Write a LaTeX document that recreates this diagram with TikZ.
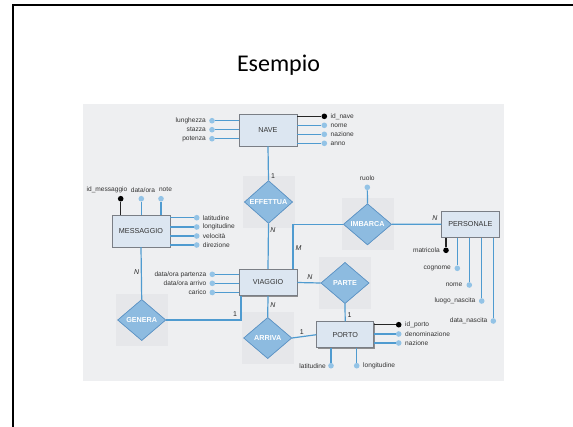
\documentclass[tikz,border=0pt]{standalone}
\usepackage{fontspec}
\setmainfont{Liberation Sans}
\newfontfamily\titlefont{Carlito}
\usetikzlibrary{shapes.geometric,shadows,calc}
\definecolor{bgcol}{HTML}{EEEFF1}
\definecolor{panelcol}{HTML}{E6E7EA}
\definecolor{boxfill}{HTML}{DCE6F1}
\definecolor{boxline}{HTML}{7A7E85}
\definecolor{linecol}{HTML}{4F9BD0}
\definecolor{dotcol}{HTML}{93C3E6}
\definecolor{diafill}{HTML}{8DBBE0}
\definecolor{diaborder}{HTML}{5D93C4}
\definecolor{txtcol}{HTML}{333333}
\tikzset{
  entity/.style={rectangle, fill=boxfill, draw=boxline, line width=0.6pt, inner sep=0pt,
    minimum width=58pt, text=txtcol, font=\fontsize{7.2}{8}\selectfont,
    drop shadow={shadow xshift=1pt, shadow yshift=-1pt, fill=black!60, opacity=0.7}},
  rel/.style={diamond, fill=diafill, draw=diaborder, line width=0.6pt, inner sep=0pt,
    minimum width=48pt, minimum height=41pt, text=white, font=\bfseries\fontsize{7.2}{8}\selectfont},
  panel/.style={fill=panelcol, draw=none},
  conn/.style={draw=linecol, line width=1.2pt},
  keyconn/.style={draw=black!85, line width=1.2pt},
  attr/.style={circle, fill=dotcol, draw=none, inner sep=0pt, minimum size=5.6pt},
  keyattr/.style={circle, fill=black, draw=none, inner sep=0pt, minimum size=5.6pt},
  atxt/.style={text=txtcol, font=\fontsize{6.6}{7}\selectfont, inner sep=0pt},
  card/.style={text=black!85, font=\itshape\fontsize{7}{8}\selectfont, inner sep=0pt},
  cardn/.style={text=black!85, font=\fontsize{7}{8}\selectfont, inner sep=0pt},
}
\begin{document}
\begin{tikzpicture}[x=1pt,y=-1pt]
\useasboundingbox (0,0) rectangle (573,426);
\fill[white] (0,0) rectangle (573,426);
% slide frame
\draw[line width=2pt, black] (13,427) -- (13,5) -- (574,5);
% title
\node[font=\titlefont\fontsize{24}{28}\selectfont, inner sep=0pt] (title) at (278.5,65) {Esempio};
% background
\fill[bgcol] (83,104) rectangle (504,381);
% panels behind diamonds
\fill[panel] (242.5,176) rectangle (294.5,228);
\fill[panel] (341.5,198.3) rectangle (393.5,250.3);
\fill[panel] (319,257) rectangle (371,309);
\fill[panel] (115.7,294) rectangle (167.7,346);
\fill[panel] (241.7,312) rectangle (293.7,364);

% entities
\node[entity, minimum height=32pt] (nave) at (268,130) {NAVE};
\node[entity, minimum height=31.7pt] (mess) at (141,231) {MESSAGGIO};
\node[entity, minimum height=26.4pt] (viag) at (268,282.5) {VIAGGIO};
\node[entity, minimum width=57pt, minimum height=26pt] (porto) at (345.2,334.7) {PORTO};
\node[entity, minimum width=57.3pt, minimum height=26.3pt] (pers) at (470.3,224.2) {PERSONALE};

% relationships
\node[rel] (eff) at (268.5,202) {EFFETTUA};
\node[rel] (imb) at (367.5,224.3) {IMBARCA};
\node[rel] (parte) at (345,283) {PARTE};
\node[rel] (gen) at (141.7,320) {GENERA};
\node[rel] (arr) at (267.7,338) {ARRIVA};

% NAVE attributes
\node[attr] (lun) at (212,120.7) {};
\node[attr] (sta) at (212,129.7) {};
\node[attr] (pot) at (212,138.7) {};
\node[atxt, anchor=east] (tlun) at (206,120.7) {lunghezza};
\node[atxt, anchor=east] (tsta) at (206,129.7) {stazza};
\node[atxt, anchor=east] (tpot) at (206,138.7) {potenza};
\draw[conn] (lun) -- (lun -| nave.west);
\draw[conn] (sta) -- (sta -| nave.west);
\draw[conn] (pot) -- (pot -| nave.west);
\node[keyattr] (idn) at (324.3,116.3) {};
\node[attr] (nom) at (324.3,125.3) {};
\node[attr] (naz) at (324.3,134.3) {};
\node[attr] (ann) at (324.3,143.3) {};
\node[atxt, anchor=west] (tidn) at (330.5,116.3) {id\_nave};
\node[atxt, anchor=west] (tnom) at (330.5,125.3) {nome};
\node[atxt, anchor=west] (tnaz) at (330.5,134.3) {nazione};
\node[atxt, anchor=west] (tann) at (330.5,143.3) {anno};
\draw[keyconn] (idn) -- (idn -| nave.east);
\draw[conn] (nom) -- (nom -| nave.east);
\draw[conn] (naz) -- (naz -| nave.east);
\draw[conn] (ann) -- (ann -| nave.east);

% MESSAGGIO attributes
\node[keyattr] (idm) at (120.7,198.7) {};
\node[attr] (dom) at (141.3,198.7) {};
\node[attr] (not) at (161,198.7) {};
\node[atxt] (tidm) at (107,189.7) {id\_messaggio};
\node[atxt] (tdom) at (143,189.7) {data/ora};
\node[atxt] (tnot) at (165.5,189.7) {note};
\draw[keyconn] (idm) -- (idm |- mess.north);
\draw[conn] (dom) -- (dom |- mess.north);
\draw[conn] (not) -- (not |- mess.north);
\node[attr] (mlat) at (196.7,217.7) {};
\node[attr] (mlon) at (196.7,227) {};
\node[attr] (mvel) at (196.7,236) {};
\node[attr] (mdir) at (196.7,245) {};
\node[atxt, anchor=west] (tmlat) at (202.7,217.7) {latitudine};
\node[atxt, anchor=west] (tmlon) at (202.7,227) {longitudine};
\node[atxt, anchor=west] (tmvel) at (202.7,236) {velocità};
\node[atxt, anchor=west] (tmdir) at (202.7,245) {direzione};
\draw[conn] (mlat) -- (mlat -| mess.east);
\draw[conn] (mlon) -- (mlon -| mess.east);
\draw[conn] (mvel) -- (mvel -| mess.east);
\draw[conn] (mdir) -- (mdir -| mess.east);

% VIAGGIO attributes
\node[attr] (dop) at (212.3,274.3) {};
\node[attr] (doa) at (212.3,283.3) {};
\node[attr] (car) at (212.3,292.5) {};
\node[atxt, anchor=east] (tdop) at (206.5,274.3) {data/ora partenza};
\node[atxt, anchor=east] (tdoa) at (206.5,283.3) {data/ora arrivo};
\node[atxt, anchor=east] (tcar) at (206.5,292.5) {carico};
\draw[conn] (dop) -- (dop -| viag.west);
\draw[conn] (doa) -- (doa -| viag.west);
\draw[conn] (car) -- (car -| viag.west);

% PORTO attributes
\node[keyattr] (idp) at (398.7,324.7) {};
\node[attr] (den) at (398.7,334) {};
\node[attr] (pnaz) at (398.7,343) {};
\node[atxt, anchor=west] (tidp) at (405,324.7) {id\_porto};
\node[atxt, anchor=west] (tden) at (405,334) {denominazione};
\node[atxt, anchor=west] (tpnaz) at (405,343) {nazione};
\draw[keyconn] (idp) -- (idp -| porto.east);
\draw[conn] (den) -- (den -| porto.east);
\draw[conn] (pnaz) -- (pnaz -| porto.east);
\node[attr] (plat) at (331,365.7) {};
\node[attr] (plon) at (356.7,365.7) {};
\node[atxt, anchor=east] (tplat) at (326,365.7) {latitudine};
\node[atxt, anchor=west] (tplon) at (363,365.7) {longitudine};
\draw[conn] (plat) -- (plat |- porto.south);
\draw[conn] (plon) -- (plon |- porto.south);

% PERSONALE attributes
\node[keyattr] (mat) at (446,250.3) {};
\node[attr] (cog) at (457.3,268.3) {};
\node[attr] (pnom) at (469.3,285) {};
\node[attr] (lnas) at (481.7,301) {};
\node[attr] (dnas) at (493.3,321) {};
\node[atxt, anchor=east] (tmat) at (440,250.3) {matricola};
\node[atxt, anchor=east] (tcog) at (451,268.3) {cognome};
\node[atxt, anchor=east] (tpnom) at (462.5,285) {nome};
\node[atxt, anchor=east] (tlnas) at (475.5,301) {luogo\_nascita};
\node[atxt, anchor=east] (tdnas) at (487.5,321) {data\_nascita};
\draw[keyconn] (mat) -- (mat |- pers.south);
\draw[conn] (cog) -- (cog |- pers.south);
\draw[conn] (pnom) -- (pnom |- pers.south);
\draw[conn] (lnas) -- (lnas |- pers.south);
\draw[conn] (dnas) -- (dnas |- pers.south);

% ruolo
\node[attr] (ruolo) at (367.3,187.3) {};
\node[atxt] (truolo) at (367.3,178.3) {ruolo};
\draw[conn] (ruolo) -- (imb.north);

% relationship connectors
\draw[conn] (nave.south) -- (eff.north);
\draw[conn] (eff.south) -- (viag.north);
\draw[conn] ([xshift=-4.4pt]viag.north east) |- (imb.west);
\draw[conn] (imb.east) -- (pers.west);
\draw[conn] (viag.east) -- (parte.west);
\draw[conn] (parte.south) -- (porto.north);
\draw[conn] (viag.south) -- (arr.north);
\draw[conn] (arr.east) -- (porto.west);
\draw[conn] (mess.south) -- (gen.north);
\draw[conn] (gen.east) -| ([xshift=-27pt]viag.south);

% redraw relationship shapes above connectors
\node[rel] at (eff) {EFFETTUA};
\node[rel] at (imb) {IMBARCA};
\node[rel] at (parte) {PARTE};
\node[rel] at (gen) {GENERA};
\node[rel] at (arr) {ARRIVA};

% cardinalities
\node[cardn] (c1) at (273,176) {1};
\node[card] (c2) at (273,230) {N};
\node[card] (c3) at (298.5,248.3) {M};
\node[card] (c4) at (435,218) {N};
\node[card] (c5) at (310,277.3) {N};
\node[cardn] (c6) at (349.5,315) {1};
\node[card] (c7) at (273,305) {N};
\node[cardn] (c8) at (301.7,331.7) {1};
\node[card] (c9) at (136.7,272.3) {N};
\node[cardn] (c10) at (235,314) {1};
\end{tikzpicture}
\end{document}
